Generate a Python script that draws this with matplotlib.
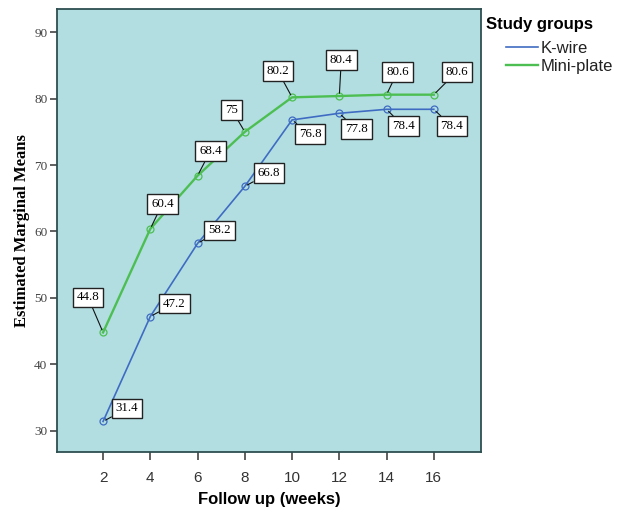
import matplotlib
matplotlib.use("Agg")
import matplotlib.pyplot as plt
from matplotlib.lines import Line2D

weeks = [2, 4, 6, 8, 10, 12, 14, 16]
kwire = [31.4, 47.2, 58.2, 66.8, 76.8, 77.8, 78.4, 78.4]
miniplate = [44.8, 60.4, 68.4, 75, 80.2, 80.4, 80.6, 80.6]
kwire_labels = ["31.4", "47.2", "58.2", "66.8", "76.8", "77.8", "78.4", "78.4"]
mini_labels = ["44.8", "60.4", "68.4", "75", "80.2", "80.4", "80.6", "80.6"]
group_names = ["K-wire", "Mini-plate"]
yticks = [30, 40, 50, 60, 70, 80, 90]

# label offsets in pixels (annotation placement)
kwire_off = [(24, 13), (24, 13), (22, 13), (24, 13), (18, -14), (17, -16), (17, -17), (18, -17)]
mini_off = [(-15, 35), (12, 25), (13, 25), (-13, 22), (-14, 26), (2, 36), (11, 23), (23, 23)]

blue = "#3F6CC2"
green = "#4DBF52"
bg = "#B2DEE2"

fig = plt.figure(figsize=(6.21, 5.12), dpi=100)
ax = fig.add_axes([0.0918, 0.1172, 0.6828, 0.8652])
ax.set_facecolor(bg)

ax.plot(weeks, kwire, color=blue, lw=1.2, marker="o", ms=5, mfc="none", mec=blue, mew=0.9, zorder=3)
ax.plot(weeks, miniplate, color=green, lw=1.7, marker="o", ms=5, mfc="none", mec=green, mew=0.9, zorder=3)

px = 72 / 100.0
def annotate(xs, ys, labels, offs):
    for x, y, t, (dx, dy) in zip(xs, ys, labels, offs):
        ax.annotate(t, xy=(x, y), xytext=(dx * px, dy * px), textcoords="offset points",
                    ha="center", va="center", fontsize=9.3, family="Liberation Serif",
                    bbox=dict(boxstyle="square,pad=0.3", fc="white", ec="#222222", lw=1.0),
                    arrowprops=dict(arrowstyle="-", color="#111111", lw=0.8, shrinkA=0, shrinkB=2),
                    zorder=5)

annotate(weeks, kwire, kwire_labels, kwire_off)
annotate(weeks, miniplate, mini_labels, mini_off)

ax.set_xlim(0.05, 18)
ax.set_ylim(26.8, 93.5)
ax.set_xticks(weeks)
ax.set_xticklabels([str(w) for w in weeks], fontsize=11, family="Liberation Sans", color="#333333")
ax.set_yticks(yticks)
ax.set_yticklabels([str(v) for v in yticks], fontsize=9.5, family="Liberation Serif", color="#444444")
ax.tick_params(axis="x", direction="out", length=6, width=1.2, color="#444444", pad=8)
ax.tick_params(axis="y", direction="out", length=5, width=1.2, color="#444444", pad=2)
for s in ax.spines.values():
    s.set_color("#2E4E50")
    s.set_linewidth(1.3)

ax.set_xlabel("Follow up (weeks)", fontsize=12, fontweight="bold", family="Liberation Sans", labelpad=5)
ax.set_ylabel("Estimated Marginal Means", fontsize=12, fontweight="bold", family="Liberation Serif", labelpad=3)

fig.text(486 / 621, 1 - 25 / 512, "Study groups", fontsize=12, fontweight="bold",
         family="Liberation Sans", ha="left", va="center")
handles = [Line2D([0], [0], color=blue, lw=1.2), Line2D([0], [0], color=green, lw=1.7)]
leg = fig.legend(handles, group_names, loc="upper left", bbox_to_anchor=(506 / 621, 1 - 41 / 512),
                 frameon=False, fontsize=12, handlelength=1.9,
                 handletextpad=0.2, labelspacing=0.2, borderpad=0.0, borderaxespad=0.0)
for t in leg.get_texts():
    t.set_family("Liberation Sans")
    t.set_color("#222222")

fig.savefig("out.png", dpi=100, facecolor="white")
